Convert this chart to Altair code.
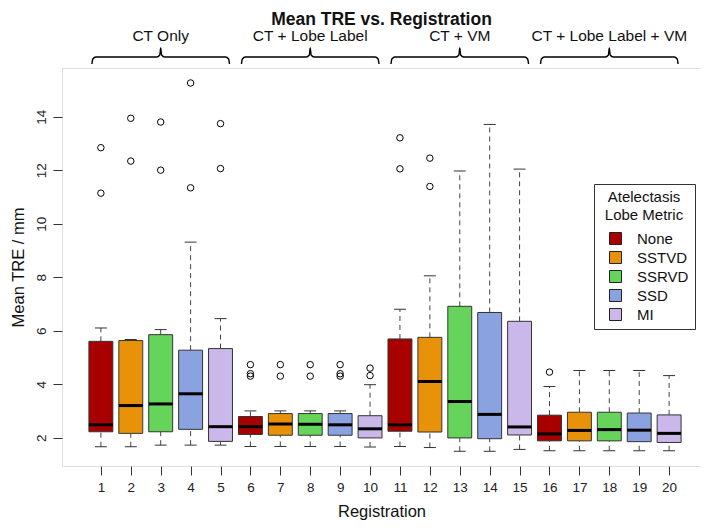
import altair as alt
import pandas as pd

# ---- data ----
registration = list(range(1, 21))
metrics = ["None", "SSTVD", "SSRVD", "SSD", "MI"]
metric = metrics * 4
lower = [1.66, 1.66, 1.72, 1.72, 1.72, 1.67, 1.67, 1.67, 1.67, 1.65,
         1.67, 1.63, 1.49, 1.49, 1.56, 1.51, 1.51, 1.51, 1.51, 1.51]
q1 = [2.22, 2.16, 2.22, 2.31, 1.86, 2.12, 2.09, 2.09, 2.09, 1.99,
      2.24, 2.21, 1.99, 1.96, 2.10, 1.88, 1.88, 1.88, 1.85, 1.82]
median = [2.48, 3.20, 3.26, 3.64, 2.41, 2.41, 2.51, 2.50, 2.48, 2.33,
          2.48, 4.10, 3.35, 2.87, 2.40, 2.14, 2.27, 2.30, 2.28, 2.16]
q3 = [5.60, 5.63, 5.85, 5.27, 5.33, 2.79, 2.90, 2.90, 2.90, 2.82,
      5.69, 5.75, 6.91, 6.68, 6.35, 2.84, 2.95, 2.95, 2.92, 2.85]
upper = [6.10, 5.67, 6.04, 9.31, 6.45, 3.00, 3.00, 3.00, 3.00, 3.98,
         6.80, 8.05, 11.97, 13.71, 12.04, 3.91, 4.51, 4.51, 4.51, 4.32]
outlier_reg = [1, 1, 2, 2, 3, 3, 4, 4, 5, 5,
               6, 6, 6, 7, 7, 8, 8, 9, 9, 9, 10, 10,
               11, 11, 12, 12, 16]
outlier_val = [12.84, 11.14, 13.94, 12.34, 13.80, 12.00, 15.26, 11.34, 13.74, 12.06,
               4.73, 4.39, 4.30, 4.73, 4.30, 4.73, 4.30, 4.73, 4.39, 4.30, 4.60, 4.32,
               13.21, 12.05, 12.45, 11.39, 4.45]
groups = ["CT Only", "CT + Lobe Label", "CT + VM", "CT + Lobe Label + VM"]
group_start = [1, 6, 11, 16]
group_end = [5, 10, 15, 20]
colors = ["#A80000", "#E8920A", "#66D45A", "#8AA2E0", "#CAB8EA"]

FONT = "Liberation Sans"

df = pd.DataFrame(dict(reg=registration, metric=metric, lo=lower, q1=q1,
                       med=median, q3=q3, hi=upper))
df_out = pd.DataFrame(dict(reg=outlier_reg, val=outlier_val))

# brace path for each group (x in data units, y in pixels above the plot)
rows = []
for g, s, e in zip(groups, group_start, group_end):
    x0, x1, m = s - 0.3, e + 0.3, (s + e) / 2
    pts = [(x0, -4), (x0 + 0.03, -9), (x0 + 0.13, -11), (m - 0.13, -11),
           (m - 0.03, -13), (m, -20), (m + 0.03, -13), (m + 0.13, -11),
           (x1 - 0.13, -11), (x1 - 0.03, -9), (x1, -4)]
    for i, (px, py) in enumerate(pts):
        rows.append(dict(group=g, idx=i, bx=px, by=py))
df_brace = pd.DataFrame(rows)
df_glab = pd.DataFrame(dict(group=groups,
                            mid=[(s + e) / 2 for s, e in zip(group_start, group_end)]))

xscale = alt.Scale(domain=[-0.3, 21.066], nice=False, zero=False)
yscale = alt.Scale(domain=[0.94, 15.82], nice=False, zero=False)

x_axis = alt.Axis(values=registration, title="Registration", grid=False, domain=False,
                  tickColor="#333", tickSize=9, labelFontSize=13.5, labelFont=FONT,
                  labelColor="#222", labelPadding=5, labelFlush=False,
                  titleFont=FONT, titleFontSize=16.5, titleFontWeight="normal",
                  titleColor="#111", titleY=50, titleBaseline="alphabetic")
y_axis = alt.Axis(values=[2, 4, 6, 8, 10, 12, 14], title="Mean TRE / mm", grid=False,
                  domain=False, tickColor="#333", tickSize=9, labelFontSize=13.5,
                  labelFont=FONT, labelColor="#222", labelAngle=270, labelAlign="center",
                  labelBaseline="bottom", labelPadding=5, labelFlush=False,
                  titleFont=FONT, titleFontSize=16.5, titleFontWeight="normal",
                  titleColor="#111", titleAngle=270, titleX=-39, titleY=199,
                  titleAlign="center", titleBaseline="alphabetic")

base = alt.Chart(df).transform_calculate(
    xl="datum.reg - 0.4", xr="datum.reg + 0.4",
    cl="datum.reg - 0.2", cr="datum.reg + 0.2")

X = lambda f: alt.X(f, type="quantitative", scale=xscale, axis=x_axis)
Y = lambda f: alt.Y(f, type="quantitative", scale=yscale, axis=y_axis)

whisk_up = base.mark_rule(color="#444", strokeDash=[5, 4], strokeWidth=1).encode(
    x=X("reg"), y=Y("q3"), y2="hi")
whisk_lo = base.mark_rule(color="#444", strokeDash=[5, 4], strokeWidth=1).encode(
    x=X("reg"), y=Y("lo"), y2="q1")
cap_up = base.mark_rule(color="#333", strokeWidth=1).encode(x=X("cl"), x2="cr", y=Y("hi"))
cap_lo = base.mark_rule(color="#333", strokeWidth=1).encode(x=X("cl"), x2="cr", y=Y("lo"))

boxes = base.mark_bar(stroke="#333", strokeWidth=1, opacity=1).encode(
    x=X("xl"), x2="xr", y=Y("q1"), y2="q3",
    color=alt.Color("metric:N", scale=alt.Scale(domain=metrics, range=colors),
                    legend=alt.Legend(
                        title=["Atelectasis", "Lobe Metric"], orient="none",
                        legendX=532, legendY=116, padding=6, fillColor="white",
                        strokeColor="#333", symbolType="square", symbolSize=144,
                        symbolStrokeColor="#222", symbolStrokeWidth=1,
                        symbolOffset=8, labelOffset=14, labelFont=FONT,
                        labelFontSize=15, labelColor="#111", rowPadding=2,
                        titleFont=FONT, titleFontSize=15, titleFontWeight="normal",
                        titleColor="#111", titleAlign="center", titleAnchor="middle",
                        titleLineHeight=18, titlePadding=8)))
meds = base.mark_rule(color="black", strokeWidth=3).encode(x=X("xl"), x2="xr", y=Y("med"))

outs = alt.Chart(df_out).mark_point(shape="circle", filled=False, color="black",
                                    size=42, strokeWidth=1, opacity=1).encode(
    x=X("reg"), y=Y("val"))

braces = alt.Chart(df_brace).mark_line(color="black", strokeWidth=1.4, clip=False,
                                       interpolate="monotone").encode(
    x=X("bx"), y=alt.Y("by:Q", scale=None), detail="group:N", order="idx:Q")
glabels = alt.Chart(df_glab).mark_text(font=FONT, fontSize=15.5, color="#111",
                                       baseline="middle", align="center").encode(
    x=X("mid"), y=alt.value(-32), text="group:N")

chart = alt.layer(whisk_up, whisk_lo, cap_up, cap_lo, boxes, meds, outs, braces, glabels).properties(
    width=639, height=398,
    title=alt.TitleParams("Mean TRE vs. Registration", font=FONT, fontSize=17.5,
                          fontWeight="bold", color="#111", anchor="middle",
                          frame="group", offset=1),
    autosize=alt.AutoSizeParams(type="none"),
    padding={"left": 54, "top": 60, "right": 0, "bottom": 54},
).configure_view(stroke="#222", strokeWidth=1.2).configure(background="white")

chart.save("out.html", embed_options={"renderer": "svg", "actions": False})
